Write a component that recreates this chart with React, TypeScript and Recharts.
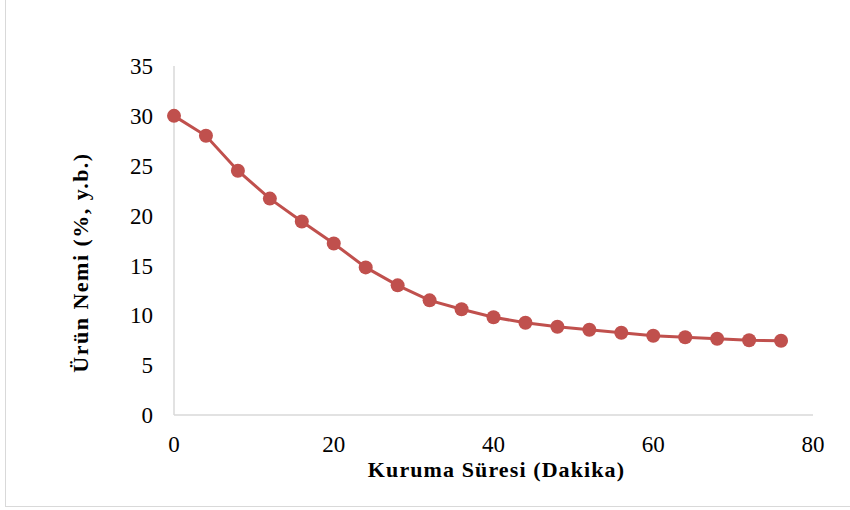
import { LineChart, Line, XAxis, YAxis, Label } from 'recharts'

const minutes = [0, 4, 8, 12, 16, 20, 24, 28, 32, 36, 40, 44, 48, 52, 56, 60, 64, 68, 72, 76]
const moisture = [30.0, 28.0, 24.5, 21.7, 19.4, 17.2, 14.8, 13.0, 11.5, 10.6, 9.8, 9.25, 8.85, 8.55, 8.25, 7.95, 7.8, 7.65, 7.5, 7.45]
const xTicks = [0, 20, 40, 60, 80]
const yTicks = [0, 5, 10, 15, 20, 25, 30, 35]

const data = minutes.map((m, i) => ({ m, v: moisture[i] }))

const serif = '"Liberation Serif", serif'
const red = '#C0504D'
const axisGray = '#d9d9d9'

// y title sits a bit below the plot's middle in the original
function YTitle(props: any) {
  const vb = props.viewBox || { x: 0, y: 66, width: 174, height: 349 }
  const x = vb.x + 80
  const y = vb.y + vb.height / 2 + 22
  return (
    <text
      x={x}
      y={y}
      transform={`rotate(-90, ${x}, ${y})`}
      textAnchor="middle"
      dominantBaseline="central"
      style={{ fill: '#000', fontSize: 22, fontWeight: 'bold', fontFamily: serif, letterSpacing: 1.5 }}
    >
      Ürün Nemi (%, y.b.)
    </text>
  )
}

export default function App() {
  return (
    <div style={{ position: 'absolute', left: 0, top: 0, width: 850, height: 510, background: '#fff' }}>
      <div
        style={{
          position: 'absolute',
          left: 5,
          top: -2,
          width: 850,
          height: 508,
          borderLeft: '1px solid #d9d9d9',
          borderBottom: '1px solid #d9d9d9',
        }}
      />
      <LineChart width={850} height={510} data={data} margin={{ top: 66, right: 37, bottom: 0, left: 0 }}>
        <XAxis
          dataKey="m"
          type="number"
          domain={[0, 80]}
          ticks={xTicks}
          height={95}
          stroke={axisGray}
          strokeWidth={1.5}
          tickLine={false}
          tickSize={0}
          tickMargin={21}
          tick={{ fill: '#000', fontSize: 23, fontFamily: serif }}
        >
          <Label
            value="Kuruma Süresi (Dakika)"
            position="insideTop"
            offset={46}
            dx={3}
            style={{ fill: '#000', fontSize: 22, fontWeight: 'bold', fontFamily: serif, letterSpacing: 1.1 }}
          />
        </XAxis>
        <YAxis
          type="number"
          domain={[0, 35]}
          ticks={yTicks}
          width={174}
          stroke={axisGray}
          strokeWidth={1.5}
          tickLine={false}
          tickSize={0}
          tickMargin={21}
          tick={{ fill: '#000', fontSize: 23, fontFamily: serif }}
        >
          <Label content={<YTitle />} />
        </YAxis>
        <Line
          dataKey="v"
          stroke={red}
          strokeWidth={3}
          dot={{ r: 7, fill: red, stroke: red, strokeWidth: 0 }}
          isAnimationActive={false}
        />
      </LineChart>
    </div>
  )
}
